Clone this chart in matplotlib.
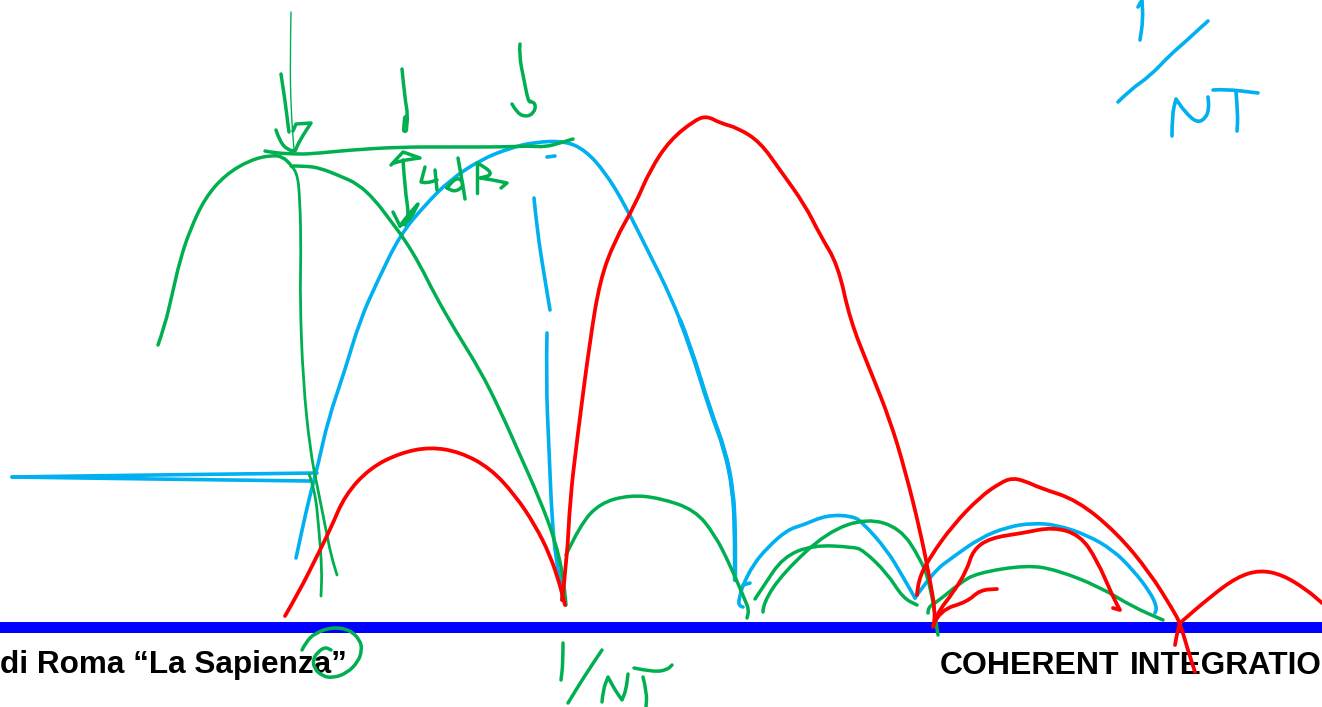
import matplotlib
matplotlib.use("Agg")
import matplotlib.pyplot as plt
from matplotlib.path import Path
from matplotlib.patches import PathPatch

# trazos a mano (x, y en pixeles)
# un punto repetido deja una esquina viva en el trazo
VERDE = "#00B050"
AZUL = "#00B0F0"
ROJO = "#FF0000"

# verdes
lobulo_verde_1 = [(158,345),(165,325),(172,295),(180,260),(190,230),(205,198),(225,175),(250,160),(272,155),(283,157),(290,164)]
vertical_verde = [(291,166),(297,170),(300,200),(301,250),(300,300),(303,380),(310,450),(318,490),(326,530),(331,555),(337,575)]
vertical_verde_2 = [(309,474),(315,490),(319,530),(322,570),(321,596)]
caida_verde = [(291,166),(305,166),(320,168),(340,176),(358,184),(375,200),(390,220),(405,240),(420,265),(435,295),(455,330),(480,370),(500,410),(520,455),(540,500),(555,540),(563,575),(566,605)]
horizontal_verde = [(265,151),(275,153),(295,154),(310,154),(350,150),(400,147),(450,147),(500,147),(530,146),(545,147),(560,143),(573,139)]
flecha_1 = [(281,74),(285,100),(288,125),(289,132)]
punta_1 = [(276,130),(280,142),(288,150),(295,151),(295,151),(300,140),(311,123),(311,123),(296,124),(296,124),(293,131)]
flecha_2 = [(402,69),(405,100),(408,115),(405,130)]
flecha_2_punta = [(406,118),(405,130)]
flecha_3 = [(520,44),(519,55),(524,80),(528,100),(530,102)]
curva_3 = [(512,104),(517,113),(526,117),(534,113),(536,104),(530,101)]
doble_arriba = [(391,165),(391,165),(403,152),(403,152),(420,158),(420,158),(405,160),(394,163)]
doble_cuerpo = [(403,160),(405,190),(409,215),(405,225)]
doble_abajo = [(393,212),(393,212),(400,226),(400,226),(410,220),(418,204),(418,204),(408,215),(400,226)]
cuatro_a = [(425,167),(421,182),(421,182),(427,183),(437,180)]
cuatro_b = [(435,170),(437,190)]
d_panza = [(447,188),(453,180),(460,178),(464,186),(455,192),(447,188)]
d_palo = [(458,158),(462,180),(465,199)]
b_palo = [(477,163),(477,193)]
b_panza = [(477,163),(487,168),(492,175),(480,178),(480,178),(493,180),(507,183),(507,183),(501,188)]
lobulo_verde_2 = [(566,555),(580,525),(600,503),(630,495),(660,498),(695,510),(715,535),(730,565),(745,600),(749,610),(747,618)]
lobulo_verde_a = [(755,599),(763,587),(783,557),(813,545),(853,547),(863,550),(887,573),(903,598),(917,605)]
lobulo_verde_b = [(763,612),(763,603),(783,573),(827,532),(867,518),(900,528),(920,558),(930,583),(938,635)]
lobulo_verde_c = [(928,613),(928,607),(937,602),(960,583),(977,573),(1027,565),(1057,570),(1100,587),(1133,607),(1163,620)]
circulo = [(302,650),(306,642),(315,633),(333,627),(350,630),(360,640),(362,650),(358,662),(347,673),(333,678),(322,676),(314,668),(313,659),(318,652),(325,647),(331,650)]
uno_verde = [(563,643),(563,663),(561,680)]
barra_verde = [(602,650),(587,672),(568,703)]
n_verde = [(602,702),(603,690),(608,677),(608,677),(615,690),(622,700),(622,700),(626,690),(628,674)]
t_verde_a = [(634,668),(653,672),(667,670),(672,665)]
t_verde_b = [(643,677),(647,693),(646,707)]

# azules
curva_azul = [(296,558),(302,530),(310,495),(318,465),(328,420),(345,370),(360,320),(378,280),(400,235),(425,205),(450,180),(480,160),(510,148),(535,142),(565,141),(585,150),(605,172),(625,205),(650,255),(670,295),(690,345),(710,410),(725,450),(733,490),(735,530),(735,580)]
curva_azul_gruesa = [(680,320),(690,345),(710,410),(725,450),(733,490),(735,530),(735,580)]
horizontal_azul_a = [(317,473),(150,475),(12,477)]
horizontal_azul_b = [(12,477),(150,479),(310,481)]
punto_azul = [(547,157),(555,156)]
azul_fino_1 = [(534,198),(537,230),(545,280),(550,310)]
azul_fino_2 = [(547,333),(546,380),(549,450),(552,520),(556,560),(562,590),(562,600)]
lobulo_azul_a = [(743,607),(738,606),(740,595),(743,585),(753,565),(767,548),(787,530),(803,525),(827,515),(853,516),(863,523),(887,550),(903,577),(915,598)]
rabito_azul = [(743,585),(750,583)]
lobulo_azul_b = [(915,598),(933,572),(953,557),(980,538),(1007,527),(1033,523),(1057,525),(1087,535),(1113,550),(1133,570),(1150,592),(1157,607),(1155,613)]
uno_azul = [(1138,7),(1142,0),(1142,0),(1143,20),(1140,40)]
barra_azul = [(1118,102),(1130,90),(1150,76),(1170,55),(1185,42),(1198,30),(1208,21)]
n_azul = [(1172,136),(1172,115),(1176,99),(1176,99),(1185,112),(1197,123),(1206,118),(1209,108),(1208,97)]
t_azul_a = [(1213,90),(1225,89),(1258,93)]
t_azul_b = [(1236,92),(1238,115),(1237,131)]

# rojos
lobulo_rojo_1 = [(285,616),(300,590),(315,560),(330,530),(345,495),(370,468),(400,453),(430,447),(460,452),(490,468),(515,495),(535,525),(550,555),(560,585),(565,605)]
pico_rojo = [(562,600),(567,560),(570,500),(577,440),(590,340),(600,280),(615,240),(635,205),(650,170),(670,140),(695,120),(707,116),(720,123),(738,128),(760,142),(780,170),(805,205),(820,235),(838,265),(850,320),(870,370),(890,420),(905,470),(920,530),(930,580),(935,610),(934,625)]
lobulo_rojo_2 = [(917,595),(918,580),(930,557),(953,525),(980,497),(1000,483),(1012,478),(1025,481),(1040,488),(1077,500),(1117,533),(1150,573),(1173,610),(1180,623),(1187,647),(1195,672)]
lobulo_rojo_3 = [(1175,645),(1177,633),(1180,623),(1180,623),(1210,597),(1237,577),(1260,570),(1283,575),(1307,590),(1322,603)]
lobulo_rojo_4 = [(933,627),(937,613),(953,593),(967,570),(973,550),(990,538),(1023,533),(1053,527),(1080,535),(1097,560),(1113,597),(1120,610),(1120,610),(1113,608)]
gancho_rojo = [(933,625),(940,610),(967,602),(980,590),(997,589)]

flecha_fina = [(291,12),(290,60),(291,110),(294,150)]

trazos_verdes = [lobulo_verde_1, caida_verde, horizontal_verde, flecha_1, punta_1, flecha_2, flecha_3, curva_3,
                 doble_arriba, doble_cuerpo, doble_abajo, cuatro_a, cuatro_b, d_panza, d_palo, b_palo, b_panza,
                 lobulo_verde_2, lobulo_verde_a, lobulo_verde_b, lobulo_verde_c, circulo,
                 uno_verde, barra_verde, n_verde, t_verde_a, t_verde_b]
trazos_verdes_finos = [vertical_verde, vertical_verde_2]
trazos_azules = [curva_azul, horizontal_azul_a, horizontal_azul_b, punto_azul, azul_fino_1, azul_fino_2,
                 lobulo_azul_a, rabito_azul, lobulo_azul_b, uno_azul, barra_azul, n_azul, t_azul_a, t_azul_b]
trazos_rojos = [lobulo_rojo_1, pico_rojo, lobulo_rojo_2, lobulo_rojo_3, lobulo_rojo_4, gancho_rojo]

fig = plt.figure(figsize=(13.22, 7.07), dpi=100)
ax = fig.add_axes([0, 0, 1, 1])
ax.set_xlim(0, 1322)
ax.set_ylim(707, 0)
ax.axis("off")


def trazo(puntos, color, lw, z=3):
    # curva suave que pasa por los puntos medios, para que no quede poligonal
    if len(puntos) < 3:
        ax.plot(*zip(*puntos), color=color, lw=lw, solid_capstyle="round", zorder=z)
        return
    verts = [puntos[0]]
    codes = [Path.MOVETO]
    for i in range(1, len(puntos) - 1):
        medio = ((puntos[i][0] + puntos[i+1][0]) / 2, (puntos[i][1] + puntos[i+1][1]) / 2)
        verts += [puntos[i], medio]
        codes += [Path.CURVE3, Path.CURVE3]
    verts.append(puntos[-1])
    codes.append(Path.LINETO)
    ax.add_patch(PathPatch(Path(verts, codes), fill=False, edgecolor=color, lw=lw,
                           capstyle="round", joinstyle="round", zorder=z))


# barra azul del eje
ax.axhspan(622, 632.5, color="#0000FF", lw=0, zorder=1)

for s in trazos_azules:
    trazo(s, AZUL, 2.6, 3)
trazo(curva_azul_gruesa, AZUL, 3.2, 3)
for s in trazos_verdes:
    trazo(s, VERDE, 2.5, 4)
for s in trazos_verdes_finos:
    trazo(s, VERDE, 2.0, 4)
trazo(flecha_fina, VERDE, 1.0, 4)
trazo(flecha_2_punta, VERDE, 4.5, 4)
for s in trazos_rojos:
    trazo(s, ROJO, 2.7, 5)

fuente = ["Liberation Sans", "DejaVu Sans"]
ax.text(347, 673.5, "di Roma “La Sapienza”", family=fuente, weight="bold", fontsize=22.7,
        ha="right", va="baseline", color="black", zorder=2)
ax.text(940, 673.5, "COHERENT", family=fuente, weight="bold", fontsize=23,
        ha="left", va="baseline", color="black", zorder=2)
ax.text(1130, 673.5, "INTEGRATIO", family=fuente, weight="bold", fontsize=22.7,
        ha="left", va="baseline", color="black", zorder=2)

fig.savefig("out.png", dpi=100)
